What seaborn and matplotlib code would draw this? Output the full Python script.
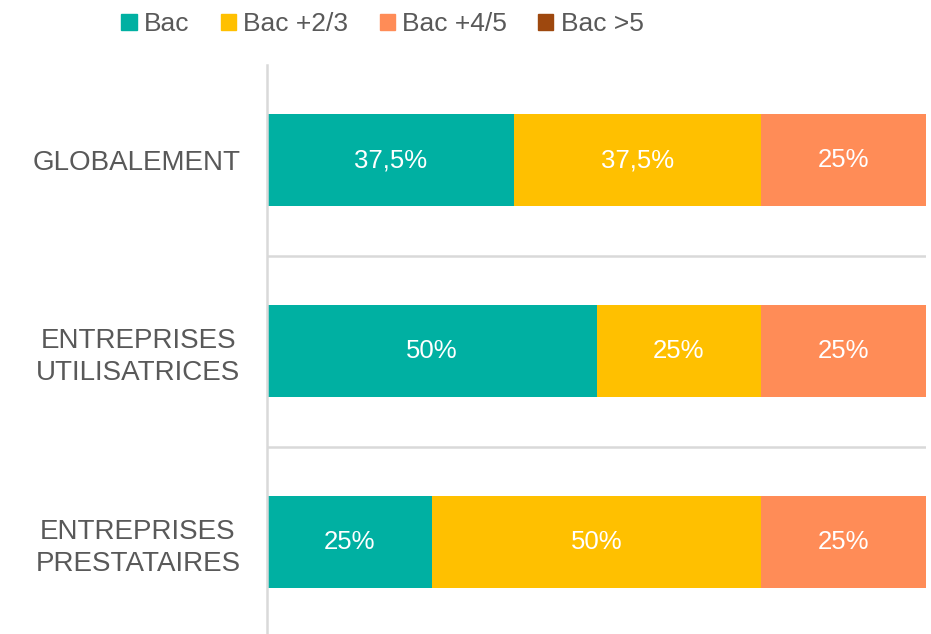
import matplotlib
matplotlib.use("Agg")
import matplotlib.pyplot as plt
from matplotlib.patches import Patch
import seaborn as sns
import pandas as pd

categories = ["GLOBALEMENT", "ENTREPRISES\nUTILISATRICES", "ENTREPRISES\nPRESTATAIRES"]
series = ["Bac", "Bac +2/3", "Bac +4/5", "Bac >5"]
bac = [37.5, 50, 25]
bac_23 = [37.5, 25, 50]
bac_45 = [25, 25, 25]
bac_5 = [0, 0, 0]
colors = ["#00B0A2", "#FFC000", "#FF8C57", "#9E480E"]

sns.set_theme(style="white")
plt.rcParams["font.family"] = ["Liberation Sans", "DejaVu Sans"]

df = pd.DataFrame({"cat": categories, "Bac": bac, "Bac +2/3": bac_23,
                   "Bac +4/5": bac_45, "Bac >5": bac_5})
cum = df[series].cumsum(axis=1)

fig = plt.figure(figsize=(9.31, 6.34), dpi=100)
ax = fig.add_axes([267 / 931, -3.5 / 634, 659 / 931, 573 / 634])

# overlay cumulated bars, longest first
for s, c in reversed(list(zip(series, colors))):
    sns.barplot(x=cum[s], y=df["cat"], color=c, width=0.48, ax=ax,
                linewidth=0, saturation=1, orient="h")

# value labels in the middle of each segment
for s in series:
    for i, v in enumerate(df[s]):
        if v > 0:
            txt = f"{v:g}".replace(".", ",") + "%"
            ax.text(cum[s][i] - v / 2, i, txt, ha="center", va="center",
                    color="white", fontsize=18.5)

ax.set_xlim(0, 100)
ax.set_ylim(2.5, -0.5)
ax.set_xlabel("")
ax.set_ylabel("")
ax.set_xticks([])
ax.set_yticks([0.5, 1.5], minor=True)
ax.grid(which="minor", axis="y", color="#D9D9D9", linewidth=1.8)
ax.tick_params(axis="y", which="both", length=0, pad=19)
for lab in ax.get_yticklabels():
    lab.set_multialignment("center")
    lab.set_linespacing(1.3)
    lab.set_fontsize(20)
    lab.set_color("#595959")
for side in ["top", "right", "bottom"]:
    ax.spines[side].set_visible(False)
ax.spines["left"].set_color("#D9D9D9")
ax.spines["left"].set_linewidth(1.8)

handles = [Patch(color=c, label=s) for s, c in zip(series, colors)]
leg = fig.legend(handles=handles, loc="center left", bbox_to_anchor=(103 / 931, 1 - 24 / 634),
                 ncol=4, frameon=False, prop={"size": 19},
                 handlelength=0.57, handleheight=0.57,
                 handletextpad=0.27, columnspacing=1.2, borderpad=0.2)
for t in leg.get_texts():
    t.set_color("#595959")

fig.savefig("out.png", dpi=100)
